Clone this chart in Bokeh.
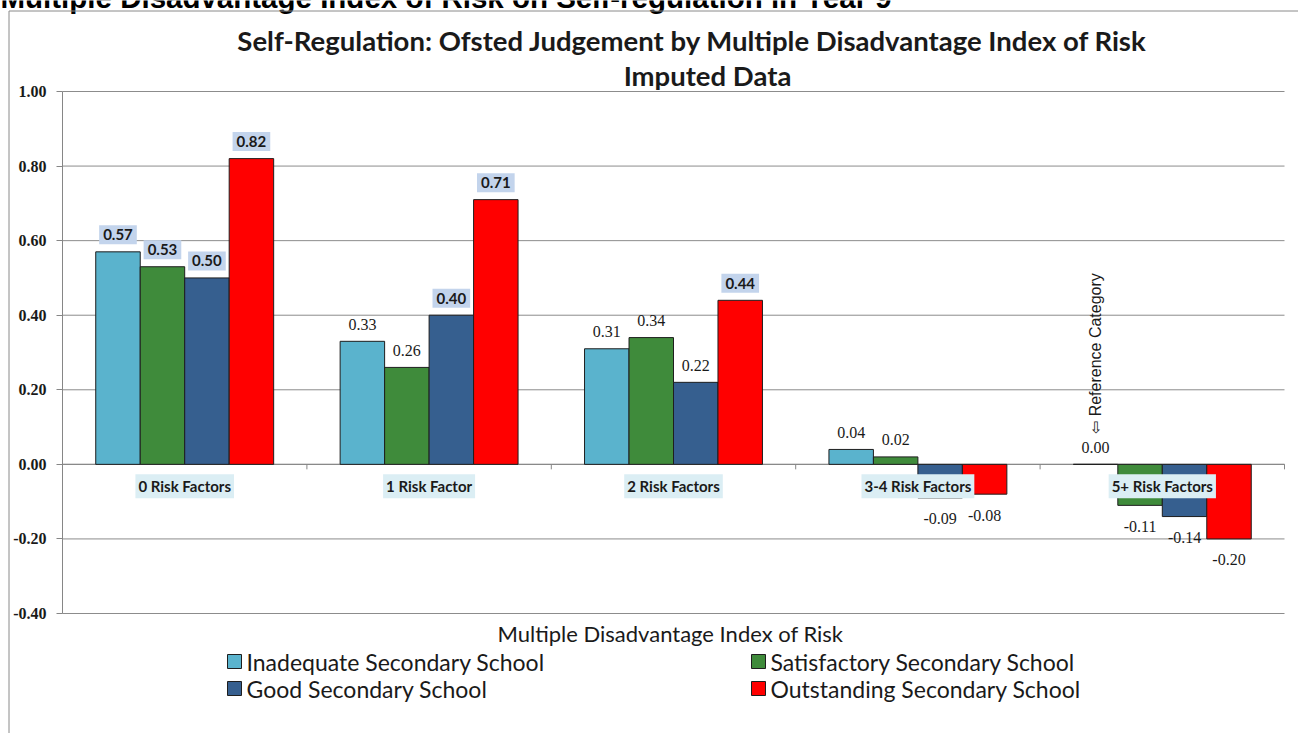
import math

from bokeh.core.properties import value
from bokeh.embed import file_html
from bokeh.models import ColumnDataSource, FixedTicker, NumeralTickFormatter, Range1d
from bokeh.plotting import figure
from bokeh.resources import INLINE

# ---- data -------------------------------------------------------------
categories = ["0 Risk Factors", "1 Risk Factor", "2 Risk Factors",
              "3-4 Risk Factors", "5+ Risk Factors"]
series_names = ["Inadequate Secondary School", "Satisfactory Secondary School",
                "Good Secondary School", "Outstanding Secondary School"]
inadequate = [0.57, 0.33, 0.31, 0.04, 0.00]
satisfactory = [0.53, 0.26, 0.34, 0.02, -0.11]
good = [0.50, 0.40, 0.22, -0.09, -0.14]
outstanding = [0.82, 0.71, 0.44, -0.08, -0.20]
# values whose label is shown in a shaded box
boxed_inadequate = [True, False, False, False, False]
boxed_satisfactory = [True, False, False, False, False]
boxed_good = [True, True, False, False, False]
boxed_outstanding = [True, True, True, False, False]
y_ticks = [-0.40, -0.20, 0.00, 0.20, 0.40, 0.60, 0.80, 1.00]

page_heading = "Multiple Disadvantage Index of Risk on Self-regulation in Year 9"
title_lines = ["Self-Regulation: Ofsted Judgement by Multiple Disadvantage Index of Risk",
               "Imputed Data"]
x_title = "Multiple Disadvantage Index of Risk"
reference_note = "\u21e6 Reference Category"

series_values = [inadequate, satisfactory, good, outstanding]
series_boxed = [boxed_inadequate, boxed_satisfactory, boxed_good, boxed_outstanding]
colors = ["#5ab3cd", "#3f8b3b", "#365f8f", "#ff0000"]

# ---- canvas geometry ----------------------------------------------------
# The frame fills the whole canvas; the value axis is pinned at x = 0 and
# the plotting box spans pixels LEFT..RIGHT x TOP..BOTTOM.
W, H = 1298, 733
LEFT, RIGHT, TOP, BOTTOM = 62, 1284, 91, 613
Y0, Y1 = -0.40, 1.00
NCAT = len(categories)
BAR_W = 0.182
XPX = (RIGHT - LEFT) / NCAT          # pixels per category
YPX = (BOTTOM - TOP) / (Y1 - Y0)     # pixels per unit of value


def px_x(px):
    return (px - LEFT) / XPX


def px_y(py):
    return Y1 - (py - TOP) / YPX


p = figure(width=W, height=H,
           x_range=Range1d(px_x(0), px_x(W)), y_range=Range1d(px_y(H), px_y(0)),
           output_backend="svg", toolbar_location=None, title_location=None,
           min_border_left=0, min_border_right=0, min_border_top=0, min_border_bottom=0)
p.outline_line_color = None
p.background_fill_color = "white"
p.border_fill_color = "white"
p.xaxis.visible = False
p.xgrid.visible = False
p.ygrid.visible = False

# value axis pinned at the left edge of the plotting box
ax = p.yaxis[0]
ax.fixed_location = 0
ax.ticker = FixedTicker(ticks=y_ticks)
ax.formatter = NumeralTickFormatter(format="0.00")
ax.bounds = (Y0, Y1)
ax.axis_line_color = "#868686"
ax.major_tick_line_color = "#868686"
ax.major_tick_out = 6
ax.major_tick_in = 0
ax.minor_tick_line_color = None
ax.major_label_standoff = 10
ax.major_label_text_font = "Liberation Serif"
ax.major_label_text_font_style = "bold"
ax.major_label_text_font_size = "16px"
ax.major_label_text_color = "#1a1a1a"

# horizontal grid lines across the plotting box
p.segment(x0=[0] * len(y_ticks), y0=y_ticks, x1=[NCAT] * len(y_ticks), y1=y_ticks,
          line_color="#8c8c8c", line_width=1)

# category axis along zero with tick marks between groups
centers = [i + 0.5 for i in range(NCAT)]
p.segment(x0=[0], y0=[0], x1=[NCAT], y1=[0], line_color="#868686", line_width=1)
bounds_x = list(range(1, NCAT + 1))
tick_len = 5 / YPX
p.segment(x0=bounds_x, y0=[0] * len(bounds_x), x1=bounds_x,
          y1=[-tick_len] * len(bounds_x), line_color="#868686", line_width=1)

# bars
bar_x = []
for j, (vals, col) in enumerate(zip(series_values, colors)):
    xs = [c + (j - 1.5) * BAR_W for c in centers]
    bar_x.append(xs)
    src = ColumnDataSource(dict(x=xs, top=vals))
    p.vbar(x="x", top="top", bottom=0, width=BAR_W, source=src,
           fill_color=col, line_color="#1e1e1e", line_width=1)

# value labels
plain = dict(x=[], y=[], text=[], off=[])
boxed = dict(x=[], y=[], text=[], off=[])
for xs, vals, flags in zip(bar_x, series_values, series_boxed):
    for x, v, f in zip(xs, vals, flags):
        d = boxed if f else plain
        d["x"].append(x)
        d["y"].append(v)
        d["text"].append(f"{v:.2f}")
        d["off"].append(-17 if v >= 0 else 21)

p.text(x="x", y="y", text="text", y_offset="off", source=ColumnDataSource(plain),
       text_font=value("Liberation Serif"), text_font_size="16px",
       text_color="#1a1a1a", text_align="center", text_baseline="middle")
p.text(x="x", y="y", text="text", y_offset="off", source=ColumnDataSource(boxed),
       text_font=value("Lato"), text_font_style="bold", text_font_size="15px",
       text_color="#1a1a1a", text_align="center", text_baseline="middle",
       background_fill_color="#c3d4ec", padding=4)

# category names sitting just under the zero line
p.text(x=centers, y=[0] * NCAT, text=categories, y_offset=22,
       text_font=value("Lato"), text_font_style="bold", text_font_size="15px",
       text_color="#1a1a1a", text_align="center", text_baseline="middle",
       background_fill_color="#dbeef4", padding=3)

# reference-category note above the zero-valued bar
ref_i = inadequate.index(0.00)
p.text(x=[bar_x[0][ref_i]], y=[px_y(353)], text=[reference_note], angle=math.pi / 2,
       text_font=value("Liberation Sans"), text_font_size="16px",
       text_color="#1a1a1a", text_align="center", text_baseline="middle")

# ---- surrounding texts and frame line ---------------------------------------
# page heading, partly running off the top edge
p.text(x=[px_x(0)], y=[px_y(-3)], text=[page_heading],
       text_font=value("Liberation Sans"), text_font_style="bold", text_font_size="29.5px",
       text_color="#000000", text_align="left", text_baseline="alphabetic")

# chart border: top and left edges
p.line(x=[px_x(8.5), px_x(8.5), px_x(W + 5)], y=[px_y(H + 5), px_y(10.5), px_y(10.5)],
       line_color="#8a8a8a", line_width=1)

p.text(x=[px_x(692), px_x(707)], y=[px_y(40), px_y(75)], text=title_lines,
       text_font=value("Lato"), text_font_style="bold", text_font_size="27.5px",
       text_color="#1a1a1a", text_align="center", text_baseline="middle")

p.text(x=[px_x(670)], y=[px_y(633)], text=[x_title],
       text_font=value("Lato"), text_font_size="22px", text_color="#1a1a1a",
       text_align="center", text_baseline="middle")

# legend: two columns, two rows
legend_px = [(227, 661), (751, 661), (227, 688), (751, 688)]
key_x = [px_x(lx + 7) for lx, _ in legend_px]
key_y = [px_y(ly) for _, ly in legend_px]
p.rect(x=key_x, y=key_y, width=14, height=14, width_units="screen", height_units="screen",
       fill_color=colors, line_color="#1e1e1e", line_width=1)
p.text(x=[px_x(lx + 19) for lx, _ in legend_px], y=key_y, text=series_names,
       text_font=value("Lato"), text_font_size="23px", text_color="#1a1a1a",
       text_align="left", text_baseline="middle")

open("out.html", "w").write(file_html(p, INLINE))
